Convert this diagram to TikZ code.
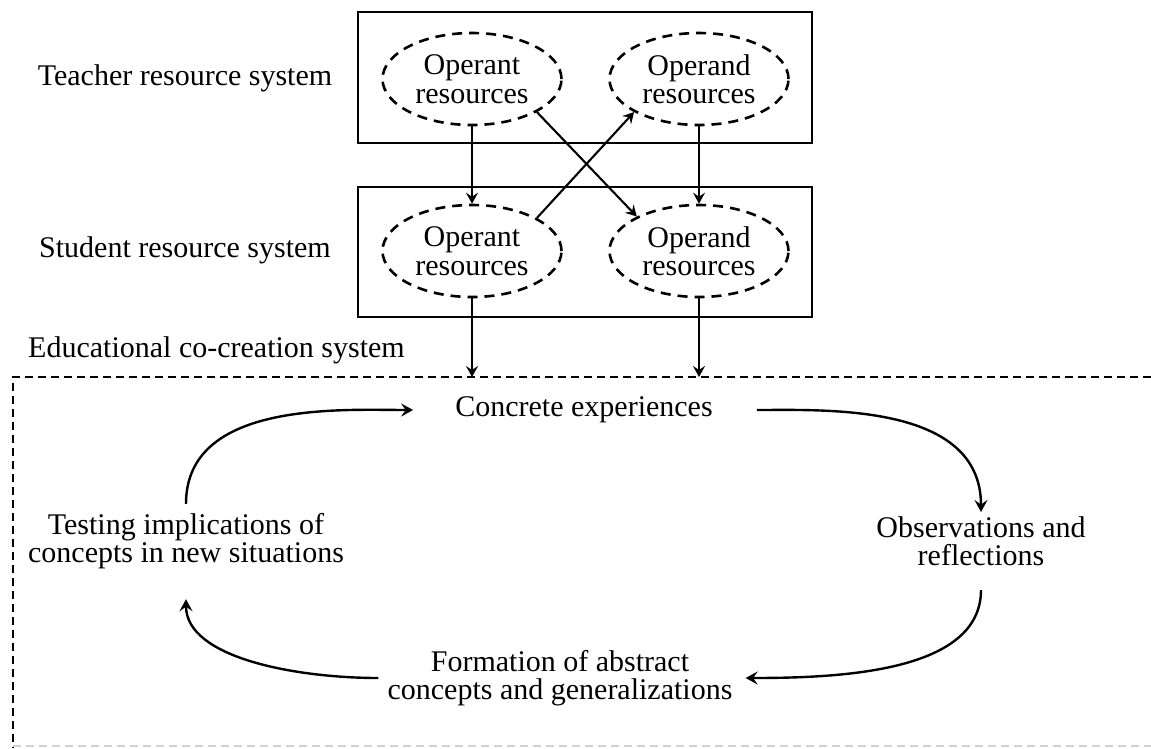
\documentclass[tikz,border=0pt]{standalone}
\usepackage{fontspec}
\setmainfont{Liberation Serif}
\usetikzlibrary{arrows.meta,shapes.geometric}
\begin{document}
\begin{tikzpicture}[x=1pt,y=-1pt,
  txt/.style={font=\fontsize{30pt}{28.5pt}\selectfont, inner sep=0pt, align=center},
  res/.style={txt, ellipse, draw, line width=2.6pt, dash pattern=on 10pt off 7pt, minimum width=179pt, minimum height=92pt},
  sysbox/.style={draw, line width=2.8pt, inner sep=0pt},
  arr/.style={line width=2.1pt, -{Stealth[length=11pt,width=12pt,inset=4pt]}},
  cyc/.style={line width=2.4pt, -{Stealth[length=12pt,width=13pt,inset=4.5pt]}},
  dbox/.style={line width=2pt, dash pattern=on 8pt off 5pt}]
\useasboundingbox (0,0) rectangle (1151,748);
% system boxes
\node[sysbox, minimum width=454pt, minimum height=131pt] (tbox) at (585,77.5) {};
\node[sysbox, minimum width=454pt, minimum height=130pt] (sbox) at (585,252) {};
% labels
\node[txt] (tlab) at (185,78) {Teacher resource system};
\node[txt] (slab) at (185,250) {Student resource system};
\node[txt, anchor=west] (elab) at (28,350) {Educational co-creation system};
% ellipses
\node[res] (tl) at (472,79) {Operant\\resources};
\node[res] (tr) at (699,79) {Operand\\resources};
\node[res] (bl) at (472,251) {Operant\\resources};
\node[res] (br) at (699,251) {Operand\\resources};
% arrows between systems
\draw[arr] (tl.south) -- (bl.north);
\draw[arr] (tr.south) -- (br.north);
\draw[arr] (tl.-27) -- (br.151);
\draw[arr] (bl.27) -- (tr.207);
% co-creation dashed frame
\coordinate (e1) at (472,377);
\coordinate (e2) at (699,377);
\draw[dbox] (1151,377) -- (13,377) -- (13,748);
\draw[dbox, gray!35] (13,746) -- (1151,746);
\draw[arr] (bl.south) -- (e1);
\draw[arr] (br.south) -- (e2);
% cycle
\node[txt] (conc) at (584,410) {Concrete experiences};
\node[txt] (obs) at (981,541) {Observations and\\reflections};
\node[txt] (form) at (560,678) {Formation of abstract\\concepts and generalizations};
\node[txt] (test) at (186,541) {Testing implications of\\concepts in new situations};
\draw[cyc, shorten <=9pt, shorten >=42pt] (test.north) to[out=90,in=180] (conc.west);
\draw[cyc, shorten <=44pt, shorten >=4pt] (conc.east) to[out=0,in=90] (obs.north);
\draw[cyc, shorten <=24pt, shorten >=13pt] (obs.south) to[out=-90,in=0] (form.east);
\draw[cyc, shorten <=9pt, shorten >=30pt] (form.west) to[out=180,in=-90] (test.south);
\end{tikzpicture}
\end{document}
